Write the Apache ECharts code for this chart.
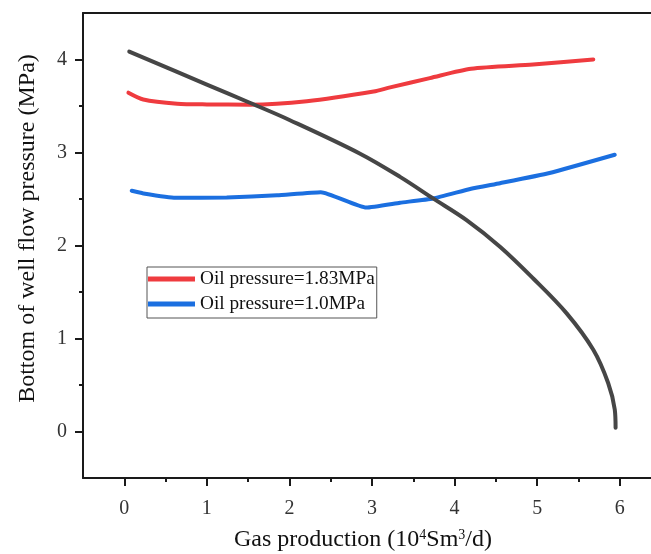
<!DOCTYPE html>
<html>
<head>
<meta charset="utf-8">
<script src="https://cdn.jsdelivr.net/npm/echarts@6/dist/echarts.min.js"></script>
<style>
  html, body { margin: 0; padding: 0; background: #fff; }
  #chart { width: 651px; height: 554px; }
</style>
</head>
<body>
<div id="chart"></div>
<script>
// Tubing performance curves at two oil pressures and the inflow (IPR) curve
const seriesNames = ['Oil pressure=1.83MPa', 'Oil pressure=1.0MPa', 'IPR'];

const gasHigh = [0.05, 0.23, 0.64, 1.0, 1.52, 2.21, 3.02, 3.22, 3.70, 4.20, 4.95, 5.68];
const pwfHigh = [3.643, 3.57, 3.525, 3.517, 3.514, 3.55, 3.655, 3.70, 3.80, 3.90, 3.946, 4.0];

const gasLow = [0.09, 0.23, 0.62, 1.24, 1.85, 2.38, 2.93, 3.34, 3.74, 4.20, 4.55, 5.15, 5.94];
const pwfLow = [2.588, 2.56, 2.513, 2.517, 2.54, 2.573, 2.408, 2.46, 2.506, 2.61, 2.67, 2.78, 2.976];

const gasIpr = [0.06, 1.0, 1.52, 2.0, 2.85, 3.34, 3.74, 4.145, 4.55, 4.95, 5.355, 5.68, 5.86, 5.94, 5.95];
const pwfIpr = [4.085, 3.73, 3.535, 3.35, 2.99, 2.738, 2.506, 2.273, 1.987, 1.648, 1.273, 0.879, 0.522, 0.236, 0.04];

const xMajorTicks = [0, 1, 2, 3, 4, 5, 6];
const xMinorTicks = [0.5, 1.5, 2.5, 3.5, 4.5, 5.5];
const yMajorTicks = [0, 1, 2, 3, 4];
const yMinorTicks = [0.5, 1.5, 2.5, 3.5];

const pairs = (xs, ys) => xs.map((x, i) => [x, ys[i]]);

const FONT = '"Liberation Serif", "DejaVu Serif", serif';
const AXIS_COLOR = '#1a1a1a';

const chart = echarts.init(document.getElementById('chart'), null, { renderer: 'canvas' });

const xRange = { min: -0.5, max: 6.5 };
const yRange = { min: -0.5, max: 4.5 };

chart.setOption({
  animation: false,
  backgroundColor: '#ffffff',
  grid: { left: 83, top: 13, width: 578, height: 465, containLabel: false, outerBoundsMode: 'none' },
  legend: {
    data: [seriesNames[0], seriesNames[1]],
    orient: 'vertical',
    left: 147,
    top: 267,
    icon: 'rect',
    itemWidth: 47,
    itemHeight: 5,
    itemGap: 5,
    padding: [2, 2, 4, 1],
    borderColor: '#555',
    borderWidth: 1,
    backgroundColor: '#fff',
    textStyle: { fontFamily: FONT, fontSize: 19.3, color: '#111', lineHeight: 20 }
  },
  xAxis: [
    {
      type: 'value', position: 'bottom', ...xRange,
      name: 'Gas production (10{sup|4}Sm{sup|3}/d)',
      nameLocation: 'middle',
      nameGap: 50,
      nameTextStyle: {
        fontFamily: FONT, fontSize: 24, color: '#111',
        padding: [0, 18, 0, 0],
        rich: { sup: { fontFamily: FONT, fontSize: 14, color: '#111', verticalAlign: 'top', padding: [0, 0, 10, 0] } }
      },
      splitLine: { show: false },
      axisLine: { show: true, onZero: false, lineStyle: { color: AXIS_COLOR, width: 2 } },
      axisTick: { show: true, inside: false, length: 8, customValues: xMajorTicks, lineStyle: { color: AXIS_COLOR, width: 2 } },
      axisLabel: { show: true, customValues: xMajorTicks, margin: 21, fontFamily: FONT, fontSize: 20, color: '#333' }
    },
    {
      type: 'value', position: 'bottom', ...xRange,
      splitLine: { show: false },
      axisLine: { show: false, onZero: false },
      axisTick: { show: true, inside: false, length: 4, customValues: xMinorTicks, lineStyle: { color: AXIS_COLOR, width: 2 } },
      axisLabel: { show: false }
    },
    {
      type: 'value', position: 'top', ...xRange,
      splitLine: { show: false },
      axisLine: { show: true, onZero: false, lineStyle: { color: AXIS_COLOR, width: 2 } },
      axisTick: { show: false },
      axisLabel: { show: false }
    }
  ],
  yAxis: [
    {
      type: 'value', position: 'left', ...yRange,
      name: 'Bottom of well flow pressure (MPa)',
      nameLocation: 'middle',
      nameGap: 43,
      nameRotate: 90,
      nameTextStyle: { fontFamily: FONT, fontSize: 24, color: '#111', padding: [0, 0, 0, 34] },
      splitLine: { show: false },
      axisLine: { show: true, onZero: false, lineStyle: { color: AXIS_COLOR, width: 2 } },
      axisTick: { show: true, inside: false, length: 8, customValues: yMajorTicks, lineStyle: { color: AXIS_COLOR, width: 2 } },
      axisLabel: { show: true, customValues: yMajorTicks, margin: 16, fontFamily: FONT, fontSize: 20, color: '#333' }
    },
    {
      type: 'value', position: 'left', ...yRange,
      splitLine: { show: false },
      axisLine: { show: false, onZero: false },
      axisTick: { show: true, inside: false, length: 4, customValues: yMinorTicks, lineStyle: { color: AXIS_COLOR, width: 2 } },
      axisLabel: { show: false }
    }
  ],
  series: [
    {
      name: seriesNames[0], type: 'line', xAxisIndex: 0, yAxisIndex: 0,
      data: pairs(gasHigh, pwfHigh),
      smooth: 0.25, showSymbol: false, symbol: 'none',
      itemStyle: { color: '#ef3b3f' },
      lineStyle: { color: '#ef3b3f', width: 4, cap: 'round', join: 'round' }
    },
    {
      name: seriesNames[1], type: 'line', xAxisIndex: 0, yAxisIndex: 0,
      data: pairs(gasLow, pwfLow),
      smooth: 0.15, showSymbol: false, symbol: 'none',
      itemStyle: { color: '#1b6fe0' },
      lineStyle: { color: '#1b6fe0', width: 4, cap: 'round', join: 'round' }
    },
    {
      name: seriesNames[2], type: 'line', xAxisIndex: 0, yAxisIndex: 0,
      data: pairs(gasIpr, pwfIpr),
      smooth: 0.35, showSymbol: false, symbol: 'none',
      itemStyle: { color: '#464646' },
      lineStyle: { color: '#464646', width: 4, cap: 'round', join: 'round' }
    }
  ]
});
</script>
</body>
</html>
